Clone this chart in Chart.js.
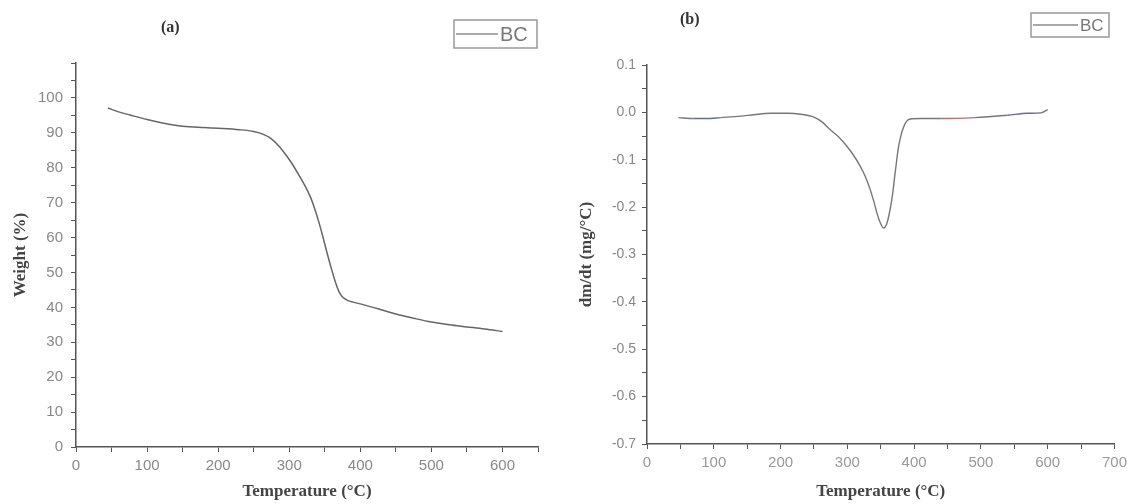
<!DOCTYPE html>
<html>
<head>
<meta charset="utf-8">
<script src="https://cdn.jsdelivr.net/npm/chart.js@4/dist/chart.umd.min.js"></script>
<style>
  body { margin: 0; background: #fff; }
  #wrap { position: relative; width: 1132px; height: 504px; }
  .box { position: absolute; top: 0; width: 566px; height: 504px; }
  .tag { position: absolute; font: bold 16px "Liberation Serif", serif; color: #333; }
</style>
</head>
<body>
<div id="wrap">
  <div class="box" style="left:0"><canvas id="tga" width="566" height="504"></canvas></div>
  <div class="box" style="left:566px"><canvas id="dtg" width="566" height="504"></canvas></div>
  <div class="tag" style="left:161px; top:18px">(a)</div>
  <div class="tag" style="left:680px; top:10px">(b)</div>
</div>
<script>
// TGA curve (a)
const tgaTemp = [45, 60, 76, 100, 120, 150, 180, 200, 230, 250, 262, 274, 286, 297, 306, 315, 323, 330, 336, 342, 348, 354, 360, 366, 370, 374, 378, 382, 390, 400, 425, 450, 475, 500, 525, 550, 575, 600];
const tgaWeight = [97.1, 96.0, 95.1, 93.8, 92.9, 91.9, 91.5, 91.3, 90.9, 90.4, 89.7, 88.4, 86.1, 83.2, 80.5, 77.4, 74.5, 71.5, 68.2, 64.2, 59.7, 55.0, 50.6, 46.6, 44.5, 43.2, 42.5, 42.0, 41.5, 41.0, 39.6, 38.1, 36.9, 35.8, 35.0, 34.4, 33.8, 33.1];

// DTG curve (b)
const dtgTemp = [47, 70, 90, 110, 140, 160, 185, 210, 230, 250, 262, 274, 287, 299, 309, 319, 327, 334, 340, 344, 349, 354, 359, 364, 368, 371, 374, 376, 380, 384, 388, 394, 410, 440, 490, 540, 570, 590, 600];
const dtgRate = [-0.011, -0.013, -0.013, -0.011, -0.008, -0.005, -0.002, -0.002, -0.004, -0.010, -0.020, -0.036, -0.052, -0.071, -0.090, -0.113, -0.136, -0.162, -0.190, -0.211, -0.232, -0.244, -0.235, -0.205, -0.170, -0.134, -0.100, -0.078, -0.050, -0.032, -0.020, -0.014, -0.013, -0.013, -0.011, -0.006, -0.002, -0.001, 0.006];

const seriesLabel = 'BC';

const titleFont = { family: 'Liberation Serif', size: 17, weight: 'bold' };

function pts(xs, ys) {
  return xs.map((x, i) => ({ x: x, y: ys[i] }));
}

// boxed legend drawn at a fixed spot
const boxLegend = {
  id: 'boxLegend',
  afterDraw(chart, args, o) {
    const ctx = chart.ctx;
    const ds = chart.data.datasets[0];
    ctx.save();
    ctx.strokeStyle = '#999';
    ctx.lineWidth = 1.5;
    ctx.strokeRect(o.x, o.y, o.w, o.h);
    ctx.strokeStyle = '#555';
    ctx.lineWidth = 1.2;
    ctx.beginPath();
    ctx.moveTo(o.x + 2, o.y + o.h / 2);
    ctx.lineTo(o.x + o.line, o.y + o.h / 2);
    ctx.stroke();
    ctx.fillStyle = '#777';
    ctx.font = o.size + 'px "Liberation Sans"';
    ctx.textBaseline = 'middle';
    ctx.fillText(ds.label, o.x + o.line + 2, o.y + o.h / 2 + 1);
    ctx.restore();
  }
};

function axisX(max, lastLabel, color) {
  return {
    type: 'linear', min: 0, max: max,
    border: { color: '#555', width: 1.5 },
    grid: { drawOnChartArea: false, tickLength: 5, tickColor: '#555' },
    ticks: {
      stepSize: 50, autoSkip: false, maxRotation: 0, padding: 5,
      color: color, font: { family: 'Liberation Sans', size: 15 },
      callback: v => (v % 100 === 0 && v <= lastLabel) ? v : ''
    },
    title: { display: true, text: 'Temperature (°C)', color: '#444', font: titleFont, padding: { top: 4, bottom: 2 } }
  };
}

new Chart(document.getElementById('tga'), {
  type: 'line',
  data: {
    datasets: [{
      label: seriesLabel,
      data: pts(tgaTemp, tgaWeight),
      borderColor: '#666',
      borderWidth: 1.5,
      pointRadius: 0,
      cubicInterpolationMode: 'monotone'
    }]
  },
  options: {
    responsive: false,
    animation: false,
    layout: { padding: { top: 63, right: 28, left: 0, bottom: 0 } },
    plugins: {
      legend: { display: false },
      tooltip: { enabled: false },
      boxLegend: { x: 454, y: 20, w: 83, h: 28, line: 44, size: 20 }
    },
    scales: {
      x: Object.assign(axisX(650, 600, '#888'), {
        afterFit: s => { s.height = 57; }
      }),
      y: {
        min: 0, max: 110,
        border: { color: '#555', width: 1.5 },
        grid: { drawOnChartArea: false, tickLength: 5, tickColor: '#555' },
        ticks: {
          stepSize: 5, autoSkip: false, padding: 8, color: '#888',
          font: { family: 'Liberation Sans', size: 15 },
          callback: v => (v % 10 === 0 && v <= 100) ? v : ''
        },
        title: { display: true, text: 'Weight (%)', color: '#444', font: titleFont, padding: { top: 10, bottom: 4 } },
        afterFit: s => { s.width = 76; }
      }
    }
  },
  plugins: [boxLegend]
});

new Chart(document.getElementById('dtg'), {
  type: 'line',
  data: {
    datasets: [{
      label: seriesLabel,
      data: pts(dtgTemp, dtgRate),
      borderColor: '#777',
      borderWidth: 1.4,
      pointRadius: 0,
      cubicInterpolationMode: 'monotone',
      segment: {
        borderColor: c => {
          const t = c.p0.parsed.x;
          if (t >= 70 && t < 110) return '#6a6a9a';
          if (t >= 440 && t < 490) return '#b07070';
          if (t >= 540 && t < 590) return '#6a6a9a';
          return undefined;
        }
      }
    }]
  },
  options: {
    responsive: false,
    animation: false,
    layout: { padding: { top: 65, right: 17, left: 0, bottom: 0 } },
    plugins: {
      legend: { display: false },
      tooltip: { enabled: false },
      boxLegend: { x: 465, y: 13, w: 78, h: 24, line: 47, size: 17 }
    },
    scales: {
      x: Object.assign(axisX(700, 700, '#999'), {
        afterFit: s => { s.height = 60; }
      }),
      y: {
        min: -0.7, max: 0.1,
        border: { color: '#555', width: 1.5 },
        grid: { drawOnChartArea: false, tickLength: 5, tickColor: '#555' },
        ticks: {
          stepSize: 0.05, autoSkip: false, padding: 6, color: '#888',
          font: { family: 'Liberation Sans', size: 14 },
          callback: v => Math.abs(v * 10 - Math.round(v * 10)) < 1e-6 ? v.toFixed(1) : ''
        },
        title: { display: true, text: 'dm/dt (mg/°C)', color: '#444', font: titleFont, padding: { top: 10, bottom: 4 } },
        afterFit: s => { s.width = 81; }
      }
    }
  },
  plugins: [boxLegend]
});
</script>
</body>
</html>
